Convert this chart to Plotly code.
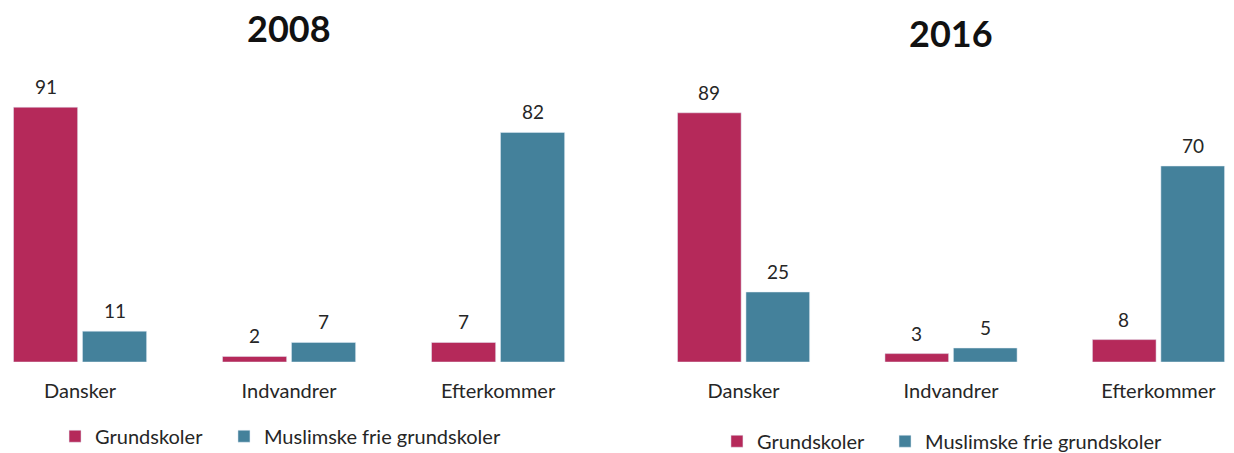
import plotly.graph_objects as go

categories = ["Dansker", "Indvandrer", "Efterkommer"]
series_names = ["Grundskoler", "Muslimske frie grundskoler"]
values_2008_grund = [91, 2, 7]
values_2008_musl = [11, 7, 82]
values_2016_grund = [89, 3, 8]
values_2016_musl = [25, 5, 70]
panel_titles = ["2008", "2016"]

RED = "#B5295A"
BLUE = "#44819B"
TXT = "#262626"
FONT = "Lato"

fig = go.Figure()

panels = [
    ("x", "y", ("legend", "legend2"), values_2008_grund, values_2008_musl),
    ("x2", "y2", ("legend3", "legend4"), values_2016_grund, values_2016_musl),
]
for xa, ya, lgs, vg, vm in panels:
    fig.add_trace(go.Bar(x=categories, y=vg, name=series_names[0], marker_color=RED,
                         xaxis=xa, yaxis=ya, legend=lgs[0], offsetgroup="a", showlegend=True))
    fig.add_trace(go.Bar(x=categories, y=vm, name=series_names[1], marker_color=BLUE,
                         xaxis=xa, yaxis=ya, legend=lgs[1], offsetgroup="b", showlegend=True))
    for vals, shift in ((vg, -34.5), (vm, 34.5)):
        for c, v in zip(categories, vals):
            fig.add_annotation(x=c, y=v, xref=xa, yref=ya, text=str(v), showarrow=False,
                               xshift=shift, yshift=7, yanchor="bottom",
                               font=dict(size=19, color=TXT, family=FONT))

titles_x = [0.234, 0.771]
titles_y = [1.193, 1.175]
for t, tx, ty in zip(panel_titles, titles_x, titles_y):
    fig.add_annotation(x=tx, y=ty, xref="paper", yref="paper", text="<b>%s</b>" % t,
                       showarrow=False, yanchor="middle", xanchor="center",
                       font=dict(size=36, color="#111111", family=FONT))

axis_common = dict(showgrid=False, zeroline=False, showline=False, ticks="",
                   tickfont=dict(size=20, color=TXT, family=FONT), ticklabelstandoff=15,
                   fixedrange=True)
yaxis_common = dict(range=[0, 100], visible=False, fixedrange=True)

legend_common = dict(orientation="h", xanchor="left", yanchor="middle",
                     xref="container", yref="container",
                     font=dict(size=20, color=TXT, family=FONT),
                     bgcolor="rgba(0,0,0,0)")

fig.update_layout(
    width=1234, height=453,
    showlegend=True,
    margin=dict(l=0, r=0, t=82, b=91, autoexpand=False),
    paper_bgcolor="white", plot_bgcolor="white",
    barmode="group", bargap=0.34, bargroupgap=0.07,
    font=dict(family=FONT, color=TXT),
    xaxis=dict(domain=[0, 0.5], range=[-0.383, 2.569], anchor="y", **axis_common),
    xaxis2=dict(domain=[0.5, 1], range=[-0.610, 2.364], anchor="y2", **axis_common),
    yaxis=dict(domain=[0, 1], anchor="x", **yaxis_common),
    yaxis2=dict(domain=[0, 1], anchor="x2", **yaxis_common),
    legend=dict(x=0.0446, y=0.037, **legend_common),
    legend2=dict(x=0.1815, y=0.037, **legend_common),
    legend3=dict(x=0.581, y=0.026, **legend_common),
    legend4=dict(x=0.7172, y=0.026, **legend_common),
)

fig.write_html("out.html", config={"displayModeBar": False},
               post_script="document.body.style.margin='0';")
